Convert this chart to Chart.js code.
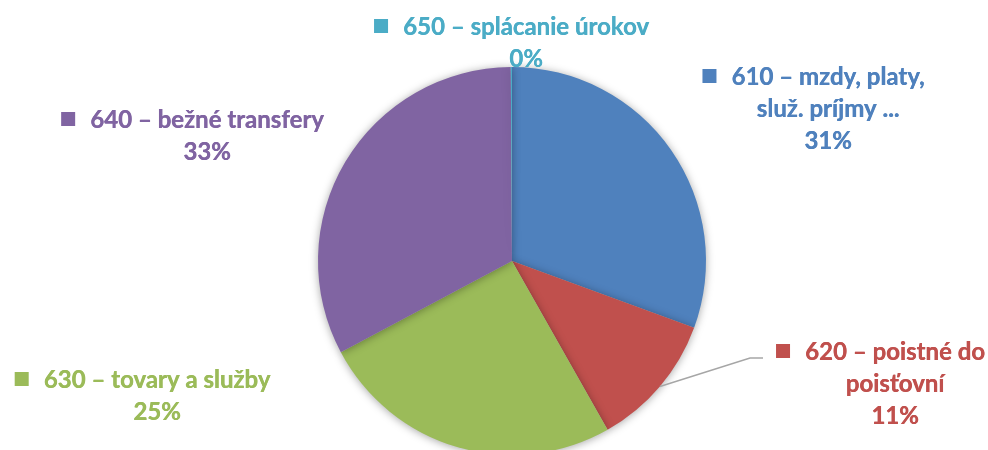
<!DOCTYPE html>
<html>
<head>
<meta charset="utf-8">
<script src="https://cdn.jsdelivr.net/npm/chart.js@4.4.1/dist/chart.umd.min.js"></script>
<style>
  html, body { margin: 0; padding: 0; background: #fff; overflow: hidden; }
  #wrap { width: 988px; height: 460px; position: relative; }
</style>
</head>
<body>
<div id="wrap"><canvas id="pieChart"></canvas></div>
<script>
// Dáta grafu
const categories = ['610 – mzdy, platy, služ. príjmy ...', '620 – poistné do poisťovní', '630 – tovary a služby', '640 – bežné transfery', '650 – splácanie úrokov'];
const labelLines = [
    ['610 – mzdy, platy,', 'služ. príjmy ...'],
    ['620 – poistné do', 'poisťovní'],
    ['630 – tovary a služby'],
    ['640 – bežné transfery'],
    ['650 – splácanie úrokov']
];
const shares = [30.6, 11.2, 25.4, 32.7, 0.1];
const colors = ['#4F81BD', '#C0504D', '#9BBB59', '#8064A2', '#4BACC6'];

// Umiestnenie popisov voči stredu koláča (dx, dy prvého riadku)
const labelOffsets = [[316, -184], [383, 91], [-355, 119], [-305, -141], [14, -234]];
const LINE_H = 32;
const FONT = 'bold 24px Lato, "Open Sans", sans-serif';

const shadowPlugin = {
    id: 'pieShadow',
    beforeDatasetsDraw(chart) {
        const ctx = chart.ctx;
        ctx.save();
        ctx.shadowColor = 'rgba(0,0,0,0.35)';
        ctx.shadowBlur = 9;
        ctx.shadowOffsetX = 0;
        ctx.shadowOffsetY = 1;
    },
    afterDatasetsDraw(chart) {
        chart.ctx.restore();
    }
};

const labelPlugin = {
    id: 'sliceLabels',
    afterDraw(chart) {
        const ctx = chart.ctx;
        const meta = chart.getDatasetMeta(0);
        const total = shares.reduce((a, b) => a + b, 0);
        ctx.save();
        ctx.font = FONT;
        ctx.textBaseline = 'middle';
        ctx.textAlign = 'center';
        meta.data.forEach((arc, i) => {
            const { x, y, startAngle, endAngle, outerRadius } = arc.getProps(['x', 'y', 'startAngle', 'endAngle', 'outerRadius'], true);
            const cx = x + labelOffsets[i][0];
            const cy = y + labelOffsets[i][1];
            const lines = labelLines[i].concat([Math.round(shares[i] / total * 100) + '%']);
            ctx.fillStyle = colors[i];
            lines.forEach((t, k) => {
                // jemne "ztučnený" text
                ctx.fillText(t, cx, cy + k * LINE_H);
                ctx.fillText(t, cx + 0.4, cy + k * LINE_H);
            });
            // štvorček legendy pred prvým riadkom
            const w = ctx.measureText(lines[0]).width;
            const sqX = cx - w / 2 - 29;
            ctx.fillRect(sqX, cy - 8, 14, 14);
            // spojovacia čiara pre 620
            if (i === 1) {
                const mid = (startAngle + endAngle) / 2;
                const px = x + Math.cos(mid) * outerRadius;
                const py = y + Math.sin(mid) * outerRadius;
                ctx.strokeStyle = '#A6A6A6';
                ctx.lineWidth = 1.5;
                ctx.beginPath();
                ctx.moveTo(px, py);
                ctx.lineTo(sqX - 26, cy + 6);
                ctx.lineTo(sqX - 13, cy + 6);
                ctx.stroke();
            }
        });
        ctx.restore();
    }
};

const ctx = document.getElementById('pieChart').getContext('2d');
new Chart(ctx, {
    type: 'pie',
    data: {
        labels: categories,
        datasets: [{
            data: shares,
            backgroundColor: colors,
            borderWidth: 0
        }]
    },
    options: {
        responsive: true,
        maintainAspectRatio: false,
        animation: false,
        layout: { padding: { top: 67, bottom: 5, left: 318, right: 282 } },
        plugins: {
            legend: { display: false },
            tooltip: { enabled: false }
        }
    },
    plugins: [shadowPlugin, labelPlugin]
});
</script>
</body>
</html>
